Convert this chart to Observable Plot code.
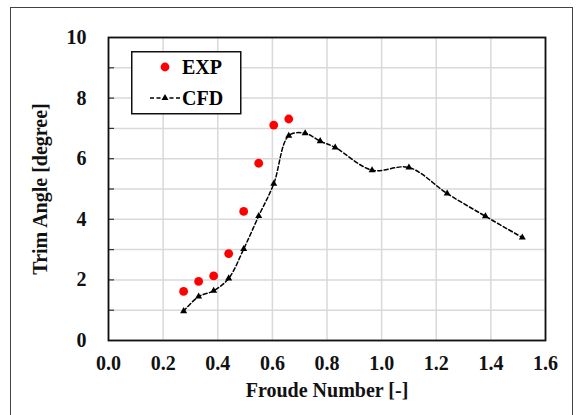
<!DOCTYPE html>
<html>
<head>
<meta charset="utf-8">
<script src="https://cdn.jsdelivr.net/npm/d3@7"></script>
<script src="https://cdn.jsdelivr.net/npm/@observablehq/plot@0.6"></script>
<style>
  html, body { margin: 0; padding: 0; background: #fff; }
  body { width: 577px; height: 415px; overflow: hidden; position: relative; font-family: "Liberation Serif", "Times New Roman", serif; }
  #border { position: absolute; left: 10px; top: 7px; width: 563px; height: 430px; border: 1.5px solid #444; box-sizing: border-box; pointer-events: none; }
  #chart { position: absolute; left: 0; top: 0; }
  #legend { position: absolute; left: 131px; top: 51px; }
</style>
</head>
<body>
<div id="chart"></div>
<div id="border"></div>
<div id="legend"></div>
<script>
// Data
const expFroude = [0.275, 0.33, 0.385, 0.44, 0.495, 0.55, 0.605, 0.66];
const expTrim   = [1.62, 1.95, 2.13, 2.87, 4.26, 5.85, 7.11, 7.31];

const cfdFroude = [0.275, 0.33, 0.385, 0.44, 0.495, 0.55, 0.605, 0.66, 0.72, 0.775, 0.83, 0.965, 1.10, 1.24, 1.38, 1.515];
const cfdTrim   = [0.97, 1.45, 1.64, 2.05, 3.02, 4.11, 5.17, 6.76, 6.84, 6.58, 6.37, 5.62, 5.71, 4.85, 4.10, 3.40];

const xTicks = [0, 0.2, 0.4, 0.6, 0.8, 1.0, 1.2, 1.4, 1.6];
const yGrid = [0, 1, 2, 3, 4, 5, 6, 7, 8, 9, 10];
const yLabels = [0, 2, 4, 6, 8, 10];

const exp = expFroude.map((x, i) => ({x, y: expTrim[i]}));
const cfd = cfdFroude.map((x, i) => ({x, y: cfdTrim[i]}));

const font = "Liberation Serif, Times New Roman, serif";

const chart = Plot.plot({
  width: 577,
  height: 415,
  marginLeft: 108,
  marginRight: 32,
  marginTop: 37,
  marginBottom: 75,
  style: {fontFamily: font, fontSize: "20px", fontWeight: "bold", color: "#000", background: "transparent"},
  x: {domain: [0, 1.6]},
  y: {domain: [0, 10]},
  marks: [
    Plot.gridX(xTicks, {stroke: "#d9d9d9", strokeOpacity: 1, strokeWidth: 1.5}),
    Plot.gridY(yGrid, {stroke: "#d9d9d9", strokeOpacity: 1, strokeWidth: 1.5}),
    Plot.ruleY(yGrid.slice(1, -1), {x1: 0, x2: 0.022, stroke: "#333", strokeWidth: 1.2}),
    Plot.axisX(xTicks, {tickSize: 0, tickPadding: 15, tickFormat: d3.format(".1f"),
      label: "Froude Number [-]", labelAnchor: "center", labelArrow: "none", labelOffset: 56, fill: "#111"}),
    Plot.axisY(yLabels, {tickSize: 0, tickPadding: 22,
      label: "Trim Angle [degree]", labelAnchor: "center", labelArrow: "none", labelOffset: 76, fill: "#111"}),
    Plot.frame({stroke: "#111", strokeWidth: 1.8}),
    Plot.line(cfd, {x: "x", y: "y", curve: "catmull-rom", stroke: "#000", strokeWidth: 1.5, strokeDasharray: "4,2.5"}),
    Plot.dot(cfd, {x: "x", y: "y", symbol: "triangle", r: 2.6, fill: "#000", stroke: "none"}),
    Plot.dot(exp, {x: "x", y: "y", r: 4.4, fill: "#ff0000", stroke: "none"})
  ]
});
document.getElementById("chart").appendChild(chart);

// Legend
const legend = d3.select("#legend").append("svg").attr("width", 111).attr("height", 64)
  .style("font-family", font).style("font-weight", "bold").style("font-size", "20px");
legend.append("rect").attr("x", 0.75).attr("y", 0.75).attr("width", 109).attr("height", 62)
  .attr("fill", "#fff").attr("stroke", "#111").attr("stroke-width", 1.5);
legend.append("circle").attr("cx", 34).attr("cy", 16).attr("r", 4.4).attr("fill", "#ff0000");
legend.append("text").attr("x", 51).attr("y", 23).text("EXP");
legend.append("line").attr("x1", 19).attr("x2", 49).attr("y1", 47).attr("y2", 47)
  .attr("stroke", "#000").attr("stroke-width", 1.5).attr("stroke-dasharray", "4,2.5");
legend.append("path").attr("d", d3.symbol(d3.symbolTriangle, 2.6 * 2.6 * Math.PI)()).attr("transform", "translate(34,47)").attr("fill", "#000");
legend.append("text").attr("x", 51).attr("y", 54).text("CFD");
</script>
</body>
</html>
